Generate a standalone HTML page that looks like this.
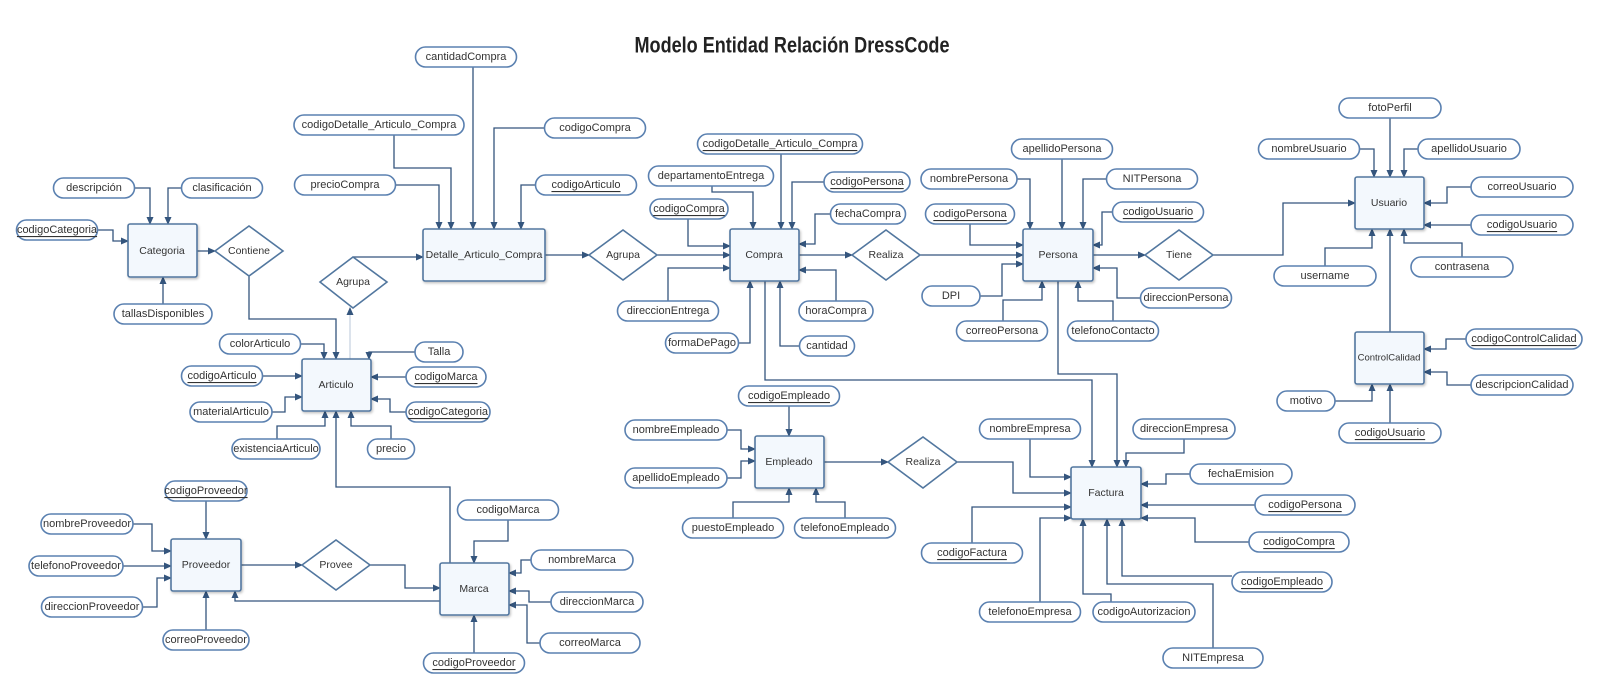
<!DOCTYPE html>
<html><head><meta charset="utf-8"><style>
html,body{margin:0;padding:0;background:#fff}
svg{display:block}
.p rect{fill:#fff;stroke:#5a80b0;stroke-width:1.6}
.p text,.e text,.d text{font-family:"Liberation Sans",sans-serif;font-size:11px;fill:#333;text-anchor:middle;dominant-baseline:central}
.u text{text-decoration:underline}
.e rect{fill:#f3f8fd;stroke:#52779f;stroke-width:1.6}
.e text,.d text{font-size:10.5px}
.d polygon{fill:#fff;stroke:#52779f;stroke-width:1.6}
polyline{fill:none;stroke:#34557d;stroke-width:1.3}
</style></head><body>
<svg width="1600" height="691" viewBox="0 0 1600 691" xmlns="http://www.w3.org/2000/svg">
<defs>
<marker id="a" markerWidth="8" markerHeight="8" refX="7" refY="4" orient="auto" markerUnits="userSpaceOnUse"><path d="M0,0.5 L8,4 L0,7.5z" fill="#34557d"/></marker>
<filter id="s" x="-10%" y="-10%" width="130%" height="130%"><feDropShadow dx="1" dy="1.5" stdDeviation="1.2" flood-color="#000" flood-opacity="0.25"/></filter>
</defs>
<text x="792" y="45" font-family="Liberation Sans, sans-serif" font-size="22" font-weight="bold" fill="#222" text-anchor="middle" dominant-baseline="central" textLength="315" lengthAdjust="spacingAndGlyphs">Modelo Entidad Relación DressCode</text>

<g marker-end="url(#a)">
<polyline points="135,188 150,188 150,224"/>
<polyline points="182,188 168,188 168,224"/>
<polyline points="98,230 113,230 113,241 128,241"/>
<polyline points="163,304 163,277"/>
<polyline points="197,251 215,251"/>
<polyline points="249,276 249,319 336,319 336,359"/>
<polyline points="350,359 350,308" style="stroke:#c8d4e2"/>
<polyline points="353,257 423,257"/>
<polyline points="473,67 473,229"/>
<polyline points="394,135 394,168 451,168 451,229"/>
<polyline points="395,185 439,185 439,229"/>
<polyline points="545,128 494,128 494,229"/>
<polyline points="535,185 521,185 521,229"/>
<polyline points="545,255 589,255"/>
<polyline points="657,255 730,255"/>
<polyline points="781,154 781,229"/>
<polyline points="712,186 712,192 753,192 753,229"/>
<polyline points="824,182 792,182 792,229"/>
<polyline points="688,219 688,246 730,246"/>
<polyline points="830,214 815,214 815,244 799,244"/>
<polyline points="668,301 668,268 730,268"/>
<polyline points="836,301 836,270 799,270"/>
<polyline points="739,343 750,343 750,281"/>
<polyline points="800,346 780,346 780,281"/>
<polyline points="799,255 852,255"/>
<polyline points="920,255 1023,255"/>
<polyline points="765,281 765,380 1092,380 1092,467"/>
<polyline points="1058,281 1058,374 1117,374 1117,467"/>
<polyline points="1062,159 1062,229"/>
<polyline points="1017,179 1030,179 1030,229"/>
<polyline points="1107,179 1083,179 1083,229"/>
<polyline points="970,224 970,245 1023,245"/>
<polyline points="1113,212 1102,212 1102,245 1093,245"/>
<polyline points="980,296 1002,296 1002,264 1023,264"/>
<polyline points="1141,298 1117,298 1117,268 1093,268"/>
<polyline points="1003,321 1003,300 1042,300 1042,281"/>
<polyline points="1113,321 1113,301 1078,301 1078,281"/>
<polyline points="1093,255 1145,255"/>
<polyline points="1213,255 1283,255 1283,203 1355,203"/>
<polyline points="1390,118 1390,177"/>
<polyline points="1360,149 1374,149 1374,177"/>
<polyline points="1418,149 1404,149 1404,177"/>
<polyline points="1471,187 1447,187 1447,203 1424,203"/>
<polyline points="1471,225 1424,225"/>
<polyline points="1325,266 1325,248 1372,248 1372,229"/>
<polyline points="1462,257 1462,243 1404,243 1404,229"/>
<polyline points="1390,332 1390,229"/>
<polyline points="1466,339 1446,339 1446,349 1424,349"/>
<polyline points="1471,385 1447,385 1447,372 1424,372"/>
<polyline points="1335,401 1372,401 1372,384"/>
<polyline points="1390,423 1390,384"/>
<polyline points="301,344 324,344 324,359"/>
<polyline points="415,352 369,352 369,359"/>
<polyline points="263,376 302,376"/>
<polyline points="406,377 371,377"/>
<polyline points="272,412 285,412 285,397 302,397"/>
<polyline points="406,412 390,412 390,399 371,399"/>
<polyline points="277,439 277,426 325,426 325,411"/>
<polyline points="391,439 391,426 351,426 351,411"/>
<polyline points="450,563 450,487 336,487 336,411"/>
<polyline points="789,406 789,436"/>
<polyline points="727,430 741,430 741,449 755,449"/>
<polyline points="727,478 741,478 741,461 755,461"/>
<polyline points="733,518 733,502 789,502 789,488"/>
<polyline points="845,518 845,502 816,502 816,488"/>
<polyline points="824,462 888,462"/>
<polyline points="957,462 1013,462 1013,493 1071,493"/>
<polyline points="1030,439 1030,477 1071,477"/>
<polyline points="1184,439 1184,453 1126,453 1126,467"/>
<polyline points="1190,474 1166,474 1166,484 1141,484"/>
<polyline points="1255,505 1141,505"/>
<polyline points="1249,542 1195,542 1195,518 1141,518"/>
<polyline points="972,543 972,507 1071,507"/>
<polyline points="1040,602 1040,518 1071,518"/>
<polyline points="1111,602 1111,594 1083,594 1083,519"/>
<polyline points="1213,648 1213,584 1107,584 1107,519"/>
<polyline points="1232,576 1122,576 1122,519"/>
<polyline points="206,501 206,539"/>
<polyline points="133,524 152,524 152,551 171,551"/>
<polyline points="123,566 171,566"/>
<polyline points="142,607 157,607 157,578 171,578"/>
<polyline points="206,630 206,591"/>
<polyline points="241,565 302,565"/>
<polyline points="370,565 405,565 405,588 440,588"/>
<polyline points="440,601 235,601 235,591"/>
<polyline points="508,520 508,541 474,541 474,563"/>
<polyline points="531,560 521,560 521,573 509,573"/>
<polyline points="551,602 529,602 529,591 509,591"/>
<polyline points="540,643 527,643 527,605 509,605"/>
<polyline points="474,653 474,615"/>
</g>

<g class="e" filter="url(#s)">
<rect x="128" y="224" width="69" height="53" rx="2"/>
<rect x="423" y="229" width="122" height="52" rx="2"/>
<rect x="730" y="229" width="69" height="52" rx="2"/>
<rect x="1023" y="229" width="70" height="52" rx="2"/>
<rect x="1355" y="177" width="69" height="52" rx="2"/>
<rect x="1355" y="332" width="69" height="52" rx="2"/>
<rect x="302" y="359" width="69" height="52" rx="2"/>
<rect x="755" y="436" width="69" height="52" rx="2"/>
<rect x="1071" y="467" width="70" height="52" rx="2"/>
<rect x="171" y="539" width="70" height="52" rx="2"/>
<rect x="440" y="563" width="69" height="52" rx="2"/>
</g>
<g class="e">
<text x="162" y="251">Categoria</text>
<text x="484" y="255">Detalle_Articulo_Compra</text>
<text x="764" y="255">Compra</text>
<text x="1058" y="255">Persona</text>
<text x="1389" y="203">Usuario</text>
<text x="1389" y="358" style="font-size:9.5px">ControlCalidad</text>
<text x="336" y="385">Articulo</text>
<text x="789" y="462">Empleado</text>
<text x="1106" y="493">Factura</text>
<text x="206" y="565">Proveedor</text>
<text x="474" y="589">Marca</text>
</g>

<g class="d">
<polygon points="215,251 249,226 283,251 249,276"/><text x="249" y="251">Contiene</text>
<polygon points="320,282 353,257 387,282 353,308"/><text x="353" y="282">Agrupa</text>
<polygon points="589,255 623,230 657,255 623,280"/><text x="623" y="255">Agrupa</text>
<polygon points="852,255 886,230 920,255 886,280"/><text x="886" y="255">Realiza</text>
<polygon points="1145,255 1179,230 1213,255 1179,280"/><text x="1179" y="255">Tiene</text>
<polygon points="888,462 923,437 957,462 923,488"/><text x="923" y="462">Realiza</text>
<polygon points="302,565 336,540 370,565 336,590"/><text x="336" y="565">Provee</text>
</g>

<g class="p">
<rect x="415.5" y="47" width="101" height="20" rx="10"/><text x="466" y="57">cantidadCompra</text>
<rect x="294" y="115" width="170" height="20" rx="10"/><text x="379" y="125">codigoDetalle_Articulo_Compra</text>
<rect x="544.5" y="118" width="101" height="20" rx="10"/><text x="595" y="128">codigoCompra</text>
<rect x="294.5" y="175" width="101" height="20" rx="10"/><text x="345" y="185">precioCompra</text>
<rect x="53.5" y="178" width="81" height="20" rx="10"/><text x="94" y="188">descripción</text>
<rect x="181.5" y="178" width="81" height="20" rx="10"/><text x="222" y="188">clasificación</text>
<rect x="114" y="304" width="98" height="20" rx="10"/><text x="163" y="314">tallasDisponibles</text>
<rect x="648.5" y="166" width="125" height="20" rx="10"/><text x="711" y="176">departamentoEntrega</text>
<rect x="830.5" y="204" width="75" height="20" rx="10"/><text x="868" y="214">fechaCompra</text>
<rect x="617.5" y="301" width="101" height="20" rx="10"/><text x="668" y="311">direccionEntrega</text>
<rect x="799" y="301" width="74" height="20" rx="10"/><text x="836" y="311">horaCompra</text>
<rect x="665.5" y="333" width="73" height="20" rx="10"/><text x="702" y="343">formaDePago</text>
<rect x="799.5" y="336" width="55" height="20" rx="10"/><text x="827" y="346">cantidad</text>
<rect x="1011.5" y="139" width="101" height="20" rx="10"/><text x="1062" y="149">apellidoPersona</text>
<rect x="921" y="169" width="96" height="20" rx="10"/><text x="969" y="179">nombrePersona</text>
<rect x="1106.5" y="169" width="91" height="20" rx="10"/><text x="1152" y="179">NITPersona</text>
<rect x="922" y="286" width="58" height="20" rx="10"/><text x="951" y="296">DPI</text>
<rect x="1140.5" y="288" width="91" height="20" rx="10"/><text x="1186" y="298">direccionPersona</text>
<rect x="956.5" y="321" width="91" height="20" rx="10"/><text x="1002" y="331">correoPersona</text>
<rect x="1067.5" y="321" width="91" height="20" rx="10"/><text x="1113" y="331">telefonoContacto</text>
<rect x="1339" y="98" width="102" height="20" rx="10"/><text x="1390" y="108">fotoPerfil</text>
<rect x="1258.5" y="139" width="101" height="20" rx="10"/><text x="1309" y="149">nombreUsuario</text>
<rect x="1418" y="139" width="102" height="20" rx="10"/><text x="1469" y="149">apellidoUsuario</text>
<rect x="1471" y="177" width="102" height="20" rx="10"/><text x="1522" y="187">correoUsuario</text>
<rect x="1274" y="266" width="102" height="20" rx="10"/><text x="1325" y="276">username</text>
<rect x="1411" y="257" width="102" height="20" rx="10"/><text x="1462" y="267">contrasena</text>
<rect x="1471" y="375" width="102" height="20" rx="10"/><text x="1522" y="385">descripcionCalidad</text>
<rect x="1277" y="391" width="58" height="20" rx="10"/><text x="1306" y="401">motivo</text>
<rect x="219.5" y="334" width="81" height="20" rx="10"/><text x="260" y="344">colorArticulo</text>
<rect x="415" y="342" width="48" height="20" rx="10"/><text x="439" y="352">Talla</text>
<rect x="190" y="402" width="82" height="20" rx="10"/><text x="231" y="412">materialArticulo</text>
<rect x="232" y="439" width="88" height="20" rx="10"/><text x="276" y="449">existenciaArticulo</text>
<rect x="367.5" y="439" width="47" height="20" rx="10"/><text x="391" y="449">precio</text>
<rect x="625" y="420" width="102" height="20" rx="10"/><text x="676" y="430">nombreEmpleado</text>
<rect x="625" y="468" width="102" height="20" rx="10"/><text x="676" y="478">apellidoEmpleado</text>
<rect x="682.5" y="518" width="101" height="20" rx="10"/><text x="733" y="528">puestoEmpleado</text>
<rect x="794.5" y="518" width="101" height="20" rx="10"/><text x="845" y="528">telefonoEmpleado</text>
<rect x="979.5" y="419" width="101" height="20" rx="10"/><text x="1030" y="429">nombreEmpresa</text>
<rect x="1133" y="419" width="102" height="20" rx="10"/><text x="1184" y="429">direccionEmpresa</text>
<rect x="1190" y="464" width="102" height="20" rx="10"/><text x="1241" y="474">fechaEmision</text>
<rect x="979.5" y="602" width="101" height="20" rx="10"/><text x="1030" y="612">telefonoEmpresa</text>
<rect x="1093" y="602" width="102" height="20" rx="10"/><text x="1144" y="612">codigoAutorizacion</text>
<rect x="1163" y="648" width="100" height="20" rx="10"/><text x="1213" y="658">NITEmpresa</text>
<rect x="41" y="514" width="92" height="20" rx="10"/><text x="87" y="524">nombreProveedor</text>
<rect x="29" y="556" width="94" height="20" rx="10"/><text x="76" y="566">telefonoProveedor</text>
<rect x="41.5" y="597" width="101" height="20" rx="10"/><text x="92" y="607">direccionProveedor</text>
<rect x="163" y="630" width="86" height="20" rx="10"/><text x="206" y="640">correoProveedor</text>
<rect x="457.5" y="500" width="101" height="20" rx="10"/><text x="508" y="510">codigoMarca</text>
<rect x="531" y="550" width="102" height="20" rx="10"/><text x="582" y="560">nombreMarca</text>
<rect x="551" y="592" width="92" height="20" rx="10"/><text x="597" y="602">direccionMarca</text>
<rect x="540" y="633" width="100" height="20" rx="10"/><text x="590" y="643">correoMarca</text>
</g>
<g class="p u">
<rect x="535.5" y="175" width="101" height="20" rx="10"/><text x="586" y="185">codigoArticulo</text>
<rect x="16.5" y="220" width="81" height="20" rx="10"/><text x="57" y="230">codigoCategoria</text>
<rect x="697.5" y="134" width="165" height="20" rx="10"/><text x="780" y="144">codigoDetalle_Articulo_Compra</text>
<rect x="824" y="172" width="86" height="20" rx="10"/><text x="867" y="182">codigoPersona</text>
<rect x="650" y="199" width="78" height="20" rx="10"/><text x="689" y="209">codigoCompra</text>
<rect x="925.5" y="204" width="89" height="20" rx="10"/><text x="970" y="214">codigoPersona</text>
<rect x="1112.5" y="202" width="91" height="20" rx="10"/><text x="1158" y="212">codigoUsuario</text>
<rect x="1471" y="215" width="102" height="20" rx="10"/><text x="1522" y="225">codigoUsuario</text>
<rect x="1466" y="329" width="116" height="20" rx="10"/><text x="1524" y="339">codigoControlCalidad</text>
<rect x="1339" y="423" width="102" height="20" rx="10"/><text x="1390" y="433">codigoUsuario</text>
<rect x="181.5" y="366" width="81" height="20" rx="10"/><text x="222" y="376">codigoArticulo</text>
<rect x="406" y="367" width="80" height="20" rx="10"/><text x="446" y="377">codigoMarca</text>
<rect x="406" y="402" width="84" height="20" rx="10"/><text x="448" y="412">codigoCategoria</text>
<rect x="738.5" y="386" width="101" height="20" rx="10"/><text x="789" y="396">codigoEmpleado</text>
<rect x="1255" y="495" width="100" height="20" rx="10"/><text x="1305" y="505">codigoPersona</text>
<rect x="1249" y="532" width="100" height="20" rx="10"/><text x="1299" y="542">codigoCompra</text>
<rect x="921.5" y="543" width="101" height="20" rx="10"/><text x="972" y="553">codigoFactura</text>
<rect x="1232" y="572" width="100" height="20" rx="10"/><text x="1282" y="582">codigoEmpleado</text>
<rect x="165" y="481" width="82" height="20" rx="10"/><text x="206" y="491">codigoProveedor</text>
<rect x="423.5" y="653" width="101" height="20" rx="10"/><text x="474" y="663">codigoProveedor</text>
</g>
</svg>
</body></html>
